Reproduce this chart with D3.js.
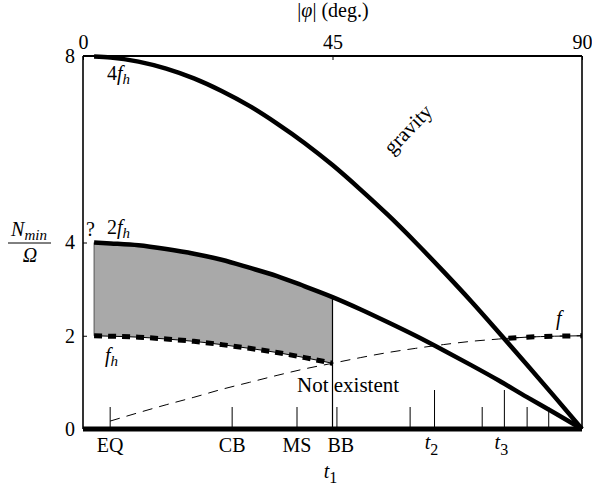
<!DOCTYPE html>
<html><head><meta charset="utf-8">
<script src="https://cdn.jsdelivr.net/npm/d3@7"></script>
<style>body{margin:0;background:#fff}</style>
</head><body><svg id="c" width="592" height="488"></svg>
<script>
// Top axis ticks (latitude, degrees) and left axis ticks
const phiTicks = [0, 45, 90];
const yTicks = [0, 2, 4, 8];
// Latitude samples for curves
const phiA = [2,5,10,15,20,25,30,35,40,45,50,55,60,65,70,75,80,85,90];
const fourFh = [7.99,7.97,7.88,7.73,7.52,7.25,6.93,6.55,6.13,5.66,5.14,4.59,4.00,3.38,2.74,2.07,1.39,0.70,0];
const twoFh  = [4.00,3.98,3.94,3.86,3.76,3.63,3.46,3.28,3.06,2.83,2.57,2.29,2.00,1.69,1.37,1.04,0.69,0.35,0];
const phiH = [2,5,10,15,20,25,30,35,40,45];
const fh = [2.00,1.99,1.97,1.93,1.88,1.81,1.73,1.64,1.53,1.41];
const phiF = [4.9,10,15,20,25,30,35,40,45,50,55,60,65,70,75,76,80,85,90];
const fCor = [0.17,0.35,0.52,0.68,0.85,1.00,1.15,1.29,1.41,1.53,1.64,1.73,1.81,1.88,1.93,1.94,1.97,1.99,2.00];
// Bottom event axis
const eventNames = ["EQ","CB","MS","BB"];
const eventPhi = [4.9, 26.9, 38.6, 45.8];
const eventLabelPhi = [4.9, 26.9, 38.6, 46.5];
const extraShort = [59.0, 72.0, 80.1, 84.0];
const longTicks = [63.4, 76.0];
const longNames = ["2","3"];
const t1Phi = 45;

const FONT = "'Liberation Serif','Times New Roman',Times,serif";
const svg = d3.select("#c");
const x = d3.scaleLinear().domain([0,90]).range([83,582]);
const y = d3.scaleLinear().domain([0,8]).range([429,56]);
const zip = (a,b)=>a.map((v,i)=>[v,b[i]]);
const line = d3.line().x(d=>x(d[0])).y(d=>y(d[1])).curve(d3.curveMonotoneX);
function txt(px,py,size){
  return svg.append("text").attr("x",px).attr("y",py)
    .style("font-family",FONT).style("font-size",size+"px").style("fill","#000");
}

// shaded region
const area = d3.area().x(d=>x(d[0])).y0(d=>y(d[2])).y1(d=>y(d[1])).curve(d3.curveMonotoneX);
svg.append("path").datum(phiH.map((p,i)=>[p,twoFh[i],fh[i]]))
  .attr("d",area).attr("fill","#a9a9a9").attr("stroke","none");
svg.append("line").attr("x1",x(phiH[0])).attr("x2",x(phiH[0])).attr("y1",y(twoFh[0])).attr("y2",y(fh[0]))
  .attr("stroke","#555").attr("stroke-width",1);
// vertical line at 45
svg.append("line").attr("x1",x(t1Phi)).attr("x2",x(t1Phi)).attr("y1",y(twoFh[9])).attr("y2",y(0))
  .attr("stroke","#000").attr("stroke-width",1.2);

// bottom ticks
svg.selectAll(".st").data(eventPhi.concat(extraShort)).join("line")
  .attr("x1",d=>x(d)).attr("x2",d=>x(d)).attr("y1",y(0)).attr("y2",y(0)-22)
  .attr("stroke","#000").attr("stroke-width",1);
svg.selectAll(".lt").data(longTicks).join("line")
  .attr("x1",d=>x(d)).attr("x2",d=>x(d)).attr("y1",y(0)).attr("y2",y(0)-39)
  .attr("stroke","#000").attr("stroke-width",1);

// f (Coriolis) thin dashed
svg.append("path").datum(zip(phiF,fCor)).attr("d",line).attr("fill","none")
  .attr("stroke","#000").attr("stroke-width",1).attr("stroke-dasharray","10,7");
// thick dashed part of f beyond t3
const fThick = zip(phiF,fCor).filter(d=>d[0]>=76);
svg.append("path").datum(fThick).attr("d",line).attr("fill","none")
  .attr("stroke","#000").attr("stroke-width",1);
svg.append("path").datum(fThick).attr("d",line).attr("fill","none")
  .attr("stroke","#000").attr("stroke-width",5).attr("stroke-dasharray","8,10").attr("stroke-dashoffset",-4);
// fh thin + thick dashed
svg.append("path").datum(zip(phiH,fh)).attr("d",line).attr("fill","none")
  .attr("stroke","#000").attr("stroke-width",1);
svg.append("path").datum(zip(phiH,fh)).attr("d",line).attr("fill","none")
  .attr("stroke","#000").attr("stroke-width",5).attr("stroke-dasharray","8,6");

// frame
svg.append("line").attr("x1",x(0)).attr("x2",x(0)).attr("y1",y(0)).attr("y2",y(8)).attr("stroke","#000").attr("stroke-width",1.6);
svg.append("line").attr("x1",x(0)).attr("x2",x(90)).attr("y1",y(8)).attr("y2",y(8)).attr("stroke","#000").attr("stroke-width",1.8);
svg.append("line").attr("x1",x(90)).attr("x2",x(90)).attr("y1",y(8)).attr("y2",y(0)).attr("stroke","#000").attr("stroke-width",1.6);
svg.append("line").attr("x1",x(0)).attr("x2",x(90)).attr("y1",y(0)).attr("y2",y(0)).attr("stroke","#000").attr("stroke-width",5);

// main curves
svg.append("path").datum(zip(phiA,fourFh)).attr("d",line).attr("fill","none").attr("stroke","#000").attr("stroke-width",4.5);
svg.append("path").datum(zip(phiA,twoFh)).attr("d",line).attr("fill","none").attr("stroke","#000").attr("stroke-width",4.5);

// top axis
const topAxis = d3.axisTop(x).tickValues(phiTicks).tickSize(-4).tickPadding(7).tickFormat(d3.format("d"));
const gt = svg.append("g").attr("transform",`translate(0,${y(8)})`).call(topAxis);
gt.select(".domain").remove();
gt.selectAll("text").style("font-family",FONT).style("font-size","20px").style("fill","#000");
gt.selectAll("line").attr("stroke-width",1);
// left axis
const leftAxis = d3.axisLeft(y).tickValues(yTicks).tickSize(-4).tickPadding(8).tickFormat(d3.format("d"));
const gl = svg.append("g").attr("transform",`translate(${x(0)},0)`).call(leftAxis);
gl.select(".domain").remove();
gl.selectAll("text").style("font-family",FONT).style("font-size","20px").style("fill","#000");
gl.selectAll("line").attr("stroke-width",1);

// top title
const tt = txt(333,17,20).attr("text-anchor","middle");
tt.append("tspan").text("|");
tt.append("tspan").style("font-style","italic").text("φ");
tt.append("tspan").text("| (deg.)");

// y title fraction
const yt = txt(29,236,20).attr("text-anchor","middle").style("font-style","italic");
yt.append("tspan").text("N");
yt.append("tspan").style("font-size","15px").attr("dy",4).text("min");
svg.append("line").attr("x1",8).attr("x2",51).attr("y1",243).attr("y2",243).attr("stroke","#000").attr("stroke-width",1);
txt(30,262,20).attr("text-anchor","middle").style("font-style","italic").text("Ω");

// curve labels
function fLabel(px,py,pre,sub){
  const t = txt(px,py,20);
  if(pre) t.append("tspan").text(pre);
  t.append("tspan").style("font-style","italic").text("f");
  if(sub) t.append("tspan").style("font-style","italic").style("font-size","15px").attr("dy",4).text(sub);
}
fLabel(107,80,"4","h");
fLabel(107,234,"2","h");
fLabel(105,362,"","h");
fLabel(556,325,"","");
txt(86,236,20).text("?");
txt(0,0,21).attr("x",null).attr("y",null).attr("text-anchor","middle")
  .attr("transform","translate(413,134) rotate(-46)").text("gravity");
txt(297,392,21).text("Not existent");

// bottom labels
svg.selectAll(".ev").data(eventNames).join("text")
  .attr("x",(d,i)=>x(eventLabelPhi[i])).attr("y",452).attr("text-anchor","middle")
  .style("font-family",FONT).style("font-size","20px").style("fill","#000").text(d=>d);
longTicks.forEach((p,i)=>{
  const t = txt(x(p)-3,449,20).attr("text-anchor","middle");
  t.append("tspan").style("font-style","italic").text("t");
  t.append("tspan").style("font-size","16px").attr("dy",6).text(longNames[i]);
});
const t1 = txt(x(t1Phi)-2,478,20).attr("text-anchor","middle");
t1.append("tspan").style("font-style","italic").text("t");
t1.append("tspan").style("font-size","16px").attr("dy",5).text("1");
</script></body></html>
